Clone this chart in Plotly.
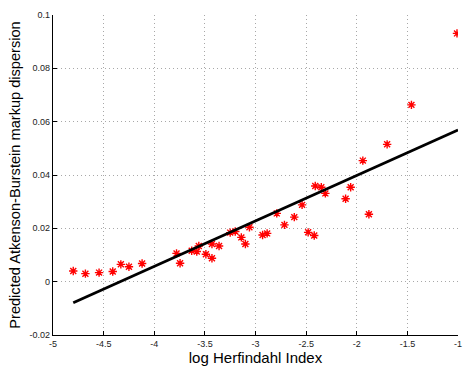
import plotly.graph_objects as go

# scatter data (log Herfindahl index, predicted markup dispersion)
x_pts = [-4.80, -4.68, -4.545, -4.41, -4.33, -4.25, -4.12,
         -3.78, -3.745, -3.63, -3.58, -3.56, -3.49, -3.43, -3.43, -3.36,
         -3.25, -3.20, -3.14, -3.10, -3.06, -2.93, -2.885, -2.79,
         -2.714, -2.617, -2.54, -2.48, -2.42, -2.41, -2.35, -2.31,
         -2.11, -2.06, -1.94, -1.88, -1.70, -1.46, -1.01]
y_pts = [0.0040, 0.0030, 0.0034, 0.0038, 0.0065, 0.0056, 0.0068,
         0.0106, 0.0069, 0.0116, 0.0113, 0.0134, 0.0103, 0.0088, 0.0141, 0.0134,
         0.0184, 0.0188, 0.0166, 0.0141, 0.0204, 0.0175, 0.0181, 0.0256,
         0.0213, 0.0242, 0.0288, 0.0185, 0.0173, 0.0359, 0.0354, 0.0331,
         0.0311, 0.0354, 0.0454, 0.0253, 0.0515, 0.0663, 0.0931]

# fitted line
x_fit = [-4.8, -1.0]
y_fit = [-0.0079, 0.0569]

x_ticks = [-5, -4.5, -4, -3.5, -3, -2.5, -2, -1.5, -1]
x_tick_text = ["-5", "-4.5", "-4", "-3.5", "-3", "-2.5", "-2", "-1.5", "-1"]
y_ticks = [-0.02, 0, 0.02, 0.04, 0.06, 0.08, 0.1]
y_tick_text = ["-0.02", "0", "0.02", "0.04", "0.06", "0.08", "0.1"]

fig = go.Figure()
fig.add_trace(go.Scatter(
    x=x_pts, y=y_pts, mode="markers",
    marker=dict(symbol="asterisk-open", size=7, color="red",
                line=dict(color="red", width=1.4)),
    showlegend=False))
fig.add_trace(go.Scatter(
    x=x_fit, y=y_fit, mode="lines",
    line=dict(color="black", width=2.8), showlegend=False))

axis_common = dict(
    showgrid=True, gridcolor="#a8a8a8", griddash="1px,3px", gridwidth=1,
    showline=True, linecolor="black", linewidth=1.2,
    ticks="inside", ticklen=4, tickcolor="black",
    tickfont=dict(family="Liberation Sans, Arial", size=9, color="#222"),
    zeroline=False, mirror=False,
)

fig.update_layout(
    width=467, height=370,
    margin=dict(l=53, r=5, t=15, b=35),
    paper_bgcolor="white", plot_bgcolor="white",
    xaxis=dict(range=[-5, -1], tickvals=x_ticks, ticktext=x_tick_text,
               title=dict(text="log Herfindahl Index", standoff=3,
                          font=dict(family="Liberation Sans, Arial", size=15, color="black")),
               **axis_common),
    yaxis=dict(range=[-0.02, 0.1], tickvals=y_ticks, ticktext=y_tick_text,
               title=dict(text="Predicted Atkenson-Burstein markup dispersion", standoff=5,
                          font=dict(family="Liberation Sans, Arial", size=14.6, color="black")),
               **axis_common),
)

fig.write_html("out.html")
